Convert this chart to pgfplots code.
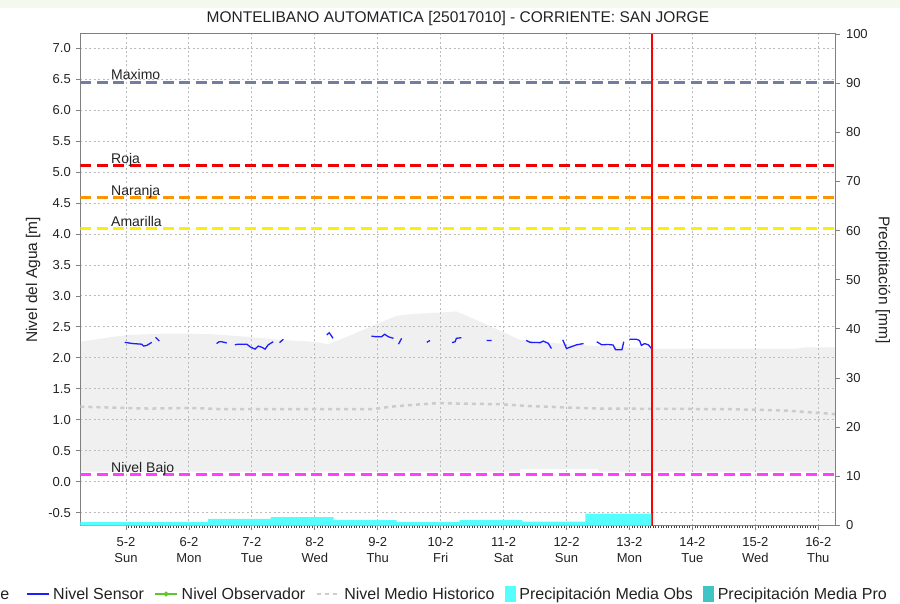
\documentclass[border=0pt]{standalone}
\usepackage{fontspec}
\setmainfont{Liberation Sans}
\usepackage{pgfplots}
\pgfplotsset{compat=1.18}
\definecolor{gridc}{RGB}{188,188,188}
\definecolor{spinec}{RGB}{128,128,128}
\definecolor{bandc}{RGB}{240,240,240}
\definecolor{meanc}{RGB}{204,204,204}
\definecolor{maxc}{RGB}{112,126,160}
\definecolor{rojac}{RGB}{240,0,0}
\definecolor{naranjac}{RGB}{255,150,0}
\definecolor{amarillac}{RGB}{250,240,0}
\definecolor{bajoc}{RGB}{255,64,255}
\definecolor{sensorc}{RGB}{30,30,255}
\definecolor{obsc}{RGB}{90,200,40}
\definecolor{cyanc}{RGB}{85,255,255}
\definecolor{tealc}{RGB}{64,196,196}
\definecolor{txtc}{RGB}{34,34,34}
\definecolor{topstrip}{RGB}{243,249,237}
\pgfplotsset{
  base/.style={scale only axis, width=755.2pt, height=491.5pt, at={(0pt,0pt)}, anchor=south west, xmin=4.274, xmax=16.274},
  lineleg/.style={legend image code/.code={\draw[##1] (0pt,0pt) -- (22pt,0pt);}},
  markleg/.style={legend image code/.code={\draw[##1] (0pt,0pt) -- (22pt,0pt); \fill[##1] (11pt,0pt) circle (1.8pt);}},
  boxleg/.style={legend image code/.code={\fill[##1] (0pt,-7.5pt) rectangle (10pt,7.5pt);}},
}
\begin{document}
\begin{tikzpicture}
\path[use as bounding box] (-80.3pt,-77.5pt) rectangle (819.7pt,525.5pt);
\fill[topstrip] (-80.3pt,517.5pt) rectangle (819.7pt,525.5pt);
\node[anchor=base west, inner sep=0pt, font=\fontsize{16}{19}\selectfont, text=txtc] at (-80.1pt,-74pt) {e};
% band
\begin{axis}[base, ymin=-0.709, ymax=7.231, hide axis]
\addplot[fill=bandc, draw=none] coordinates {
(4.274,2.26) (4.80,2.34) (5.06,2.37) (5.59,2.39) (6.02,2.39) (6.39,2.38) (6.92,2.34) (7.45,2.29) (7.98,2.26) (8.21,2.22) (8.51,2.34) (8.93,2.52) (9.30,2.68) (9.57,2.71) (9.99,2.73) (10.25,2.75) (10.68,2.56) (11.26,2.29) (12.11,2.21) (13.38,2.15) (15.67,2.15) (15.80,2.17) (16.274,2.17)
(16.274,0.16) (12.52,0.16) (12.50,0.20) (11.27,0.20) (11.25,0.16) (4.274,0.16)
} -- cycle;
\end{axis}
% main axis
\begin{axis}[base, ymin=-0.709, ymax=7.231,
  axis line style={spinec, line width=1pt},
  xtick={5,...,16},
  xticklabels={{5-2\\Sun},{6-2\\Mon},{7-2\\Tue},{8-2\\Wed},{9-2\\Thu},{10-2\\Fri},{11-2\\Sat},{12-2\\Sun},{13-2\\Mon},{14-2\\Tue},{15-2\\Wed},{16-2\\Thu}},
  xticklabel style={align=center, font=\fontsize{13}{16.5}\selectfont, text=txtc, yshift=-4pt},
  ytick={-0.5,0,0.5,1,1.5,2,2.5,3,3.5,4,4.5,5,5.5,6,6.5,7},
  yticklabel style={font=\fontsize{13}{15}\selectfont, text=txtc, xshift=-2pt, /pgf/number format/.cd, fixed, fixed zerofill, precision=1, assume math mode=true},
  xtick pos=bottom, ytick pos=left,
  tick align=outside,
  major tick length=4pt,
  minor x tick num=23,
  minor tick length=2.5pt,
  minor tick style={black!75, line width=0.6pt},
  major tick style={spinec, line width=0.8pt},
  grid=major,
  major grid style={gridc, dash pattern=on 2pt off 2.5pt, line width=0.9pt},
  title={MONTELIBANO AUTOMATICA [25017010] - CORRIENTE: SAN JORGE},
  title style={at={(axis description cs:0.5,1)}, anchor=base, yshift=5.3pt, font=\fontsize{15.5}{18}\selectfont, text=txtc, inner sep=0pt},
  ylabel={Nivel del Agua [m]},
  ylabel style={at={(axis description cs:-0.0626,0.5)}, anchor=center, font=\fontsize{15.5}{18}\selectfont, text=txtc, inner sep=0pt},
  legend style={at={(axis description cs:-0.0720,-0.1394)}, anchor=west, draw=none, fill=none, inner sep=0pt, outer sep=0pt, font=\fontsize{16}{19}\selectfont, text=txtc, nodes={inner sep=0pt}, /tikz/every odd column/.append style={column sep=4pt}, /tikz/every even column/.append style={column sep=10.5pt}},
  legend columns=-1,
  legend cell align=left,
]
% historical mean
\addplot[meanc, line width=2.5pt, dash pattern=on 4pt off 4pt, forget plot] coordinates {
(4.274,1.21) (4.95,1.19) (5.38,1.18) (6.02,1.19) (6.54,1.17) (7.77,1.17) (8.93,1.17) (9.20,1.21) (9.56,1.24) (9.99,1.27) (10.31,1.26) (10.94,1.25) (11.42,1.22) (11.94,1.20) (12.53,1.18) (14.60,1.17) (15.44,1.15) (15.87,1.12) (16.274,1.09)
};
% thresholds
\addplot[maxc, line width=3pt, dash pattern=on 11pt off 5.5pt, forget plot] coordinates {(4.274,6.451) (16.274,6.451)};
\addplot[rojac, line width=3pt, dash pattern=on 11pt off 5.5pt, forget plot] coordinates {(4.274,5.103) (16.274,5.103)};
\addplot[naranjac, line width=3pt, dash pattern=on 11pt off 5.5pt, forget plot] coordinates {(4.274,4.59) (16.274,4.59)};
\addplot[amarillac, line width=3pt, dash pattern=on 11pt off 5.5pt, forget plot] coordinates {(4.274,4.092) (16.274,4.092)};
\addplot[bajoc, line width=3pt, dash pattern=on 11pt off 5.5pt, forget plot] coordinates {(4.274,0.107) (16.274,0.107)};
\node[anchor=base west, inner sep=0pt, font=\fontsize{14}{16}\selectfont, text=txtc] at (axis cs:4.762,6.451) [yshift=2.3pt] {Maximo};
\node[anchor=base west, inner sep=0pt, font=\fontsize{14}{16}\selectfont, text=txtc] at (axis cs:4.762,5.103) [yshift=2.3pt] {Roja};
\node[anchor=base west, inner sep=0pt, font=\fontsize{14}{16}\selectfont, text=txtc] at (axis cs:4.762,4.59) [yshift=2.3pt] {Naranja};
\node[anchor=base west, inner sep=0pt, font=\fontsize{14}{16}\selectfont, text=txtc] at (axis cs:4.762,4.092) [yshift=2.3pt] {Amarilla};
\node[anchor=base west, inner sep=0pt, font=\fontsize{14}{16}\selectfont, text=txtc] at (axis cs:4.762,0.107) [yshift=2.3pt] {Nivel Bajo};
% sensor
\addplot[sensorc, line width=1.3pt, unbounded coords=jump, forget plot] coordinates {
(4.98,2.25) (5.11,2.23) (5.25,2.22) (5.28,2.19) (5.33,2.20) (5.41,2.25)
(5.44,nan)
(5.47,2.33) (5.53,2.27)
(6.0,nan)
(6.44,2.23) (6.48,2.26) (6.52,2.26) (6.60,2.24)
(6.65,nan)
(6.73,2.21) (6.78,2.22) (6.92,2.22) (6.97,2.18) (7.05,2.14) (7.10,2.19) (7.16,2.17) (7.21,2.14) (7.26,2.21) (7.34,2.26)
(7.40,nan)
(7.44,2.245) (7.50,2.30)
(7.8,nan)
(8.19,2.37) (8.23,2.405) (8.29,2.315)
(8.5,nan)
(8.90,2.35) (8.98,2.34) (9.06,2.34) (9.11,2.38) (9.17,2.34) (9.25,2.315)
(9.29,nan)
(9.33,2.22) (9.38,2.315)
(9.5,nan)
(9.78,2.25) (9.83,2.28)
(10.0,nan)
(10.18,2.245) (10.23,2.26) (10.25,2.315) (10.33,2.325)
(10.5,nan)
(10.73,2.28) (10.81,2.28)
(11.0,nan)
(11.36,2.28) (11.42,2.25) (11.58,2.245) (11.63,2.27) (11.71,2.234) (11.76,2.15)
(11.85,nan)
(11.94,2.29) (12.00,2.15) (12.08,2.18) (12.16,2.21) (12.27,2.23)
(12.4,nan)
(12.48,2.26) (12.56,2.21) (12.66,2.215) (12.74,2.207) (12.78,2.13) (12.88,2.13) (12.91,2.26)
(12.95,nan)
(13.00,2.30) (13.11,2.30) (13.16,2.28) (13.19,2.20) (13.24,2.23) (13.30,2.21) (13.35,2.15)
};
% current time
\addplot[red, line width=2pt, forget plot] coordinates {(13.363,-0.709) (13.363,7.231)};
% legend
\addlegendimage{sensorc, line width=1.3pt, lineleg}
\addlegendimage{obsc, line width=1.3pt, markleg}
\addlegendimage{meanc, line width=2.5pt, dash pattern=on 4pt off 4pt, lineleg}
\addlegendimage{cyanc, boxleg}
\addlegendimage{tealc, boxleg}
\legend{Nivel Sensor, Nivel Observador, Nivel Medio Historico, Precipitación Media Obs, Precipitación Media Pro}
\end{axis}
% precipitation axis
\begin{axis}[base, ymin=0, ymax=100,
  axis x line=none, axis y line*=right,
  axis line style={spinec, line width=1pt},
  ytick={0,10,...,100},
  yticklabel style={font=\fontsize{13}{15}\selectfont, text=txtc, xshift=3pt, /pgf/number format/assume math mode=true},
  tick align=outside,
  major tick length=4pt,
  major tick style={spinec, line width=0.8pt},
  ylabel={Precipitación [mm]},
  ylabel style={at={(axis description cs:1.0629,0.5)}, anchor=center, rotate=180, font=\fontsize{15.5}{18}\selectfont, text=txtc, inner sep=0pt},
]
\addplot[const plot, fill=cyanc, draw=none] coordinates {
(4.274,0.75) (5.30,0.75) (6.30,1.35) (7.30,1.70) (8.30,1.10) (9.30,0.75) (10.30,1.10) (11.30,0.80) (12.30,2.40) (13.35,2.40)
} \closedcycle;
\end{axis}
\end{tikzpicture}
\end{document}
